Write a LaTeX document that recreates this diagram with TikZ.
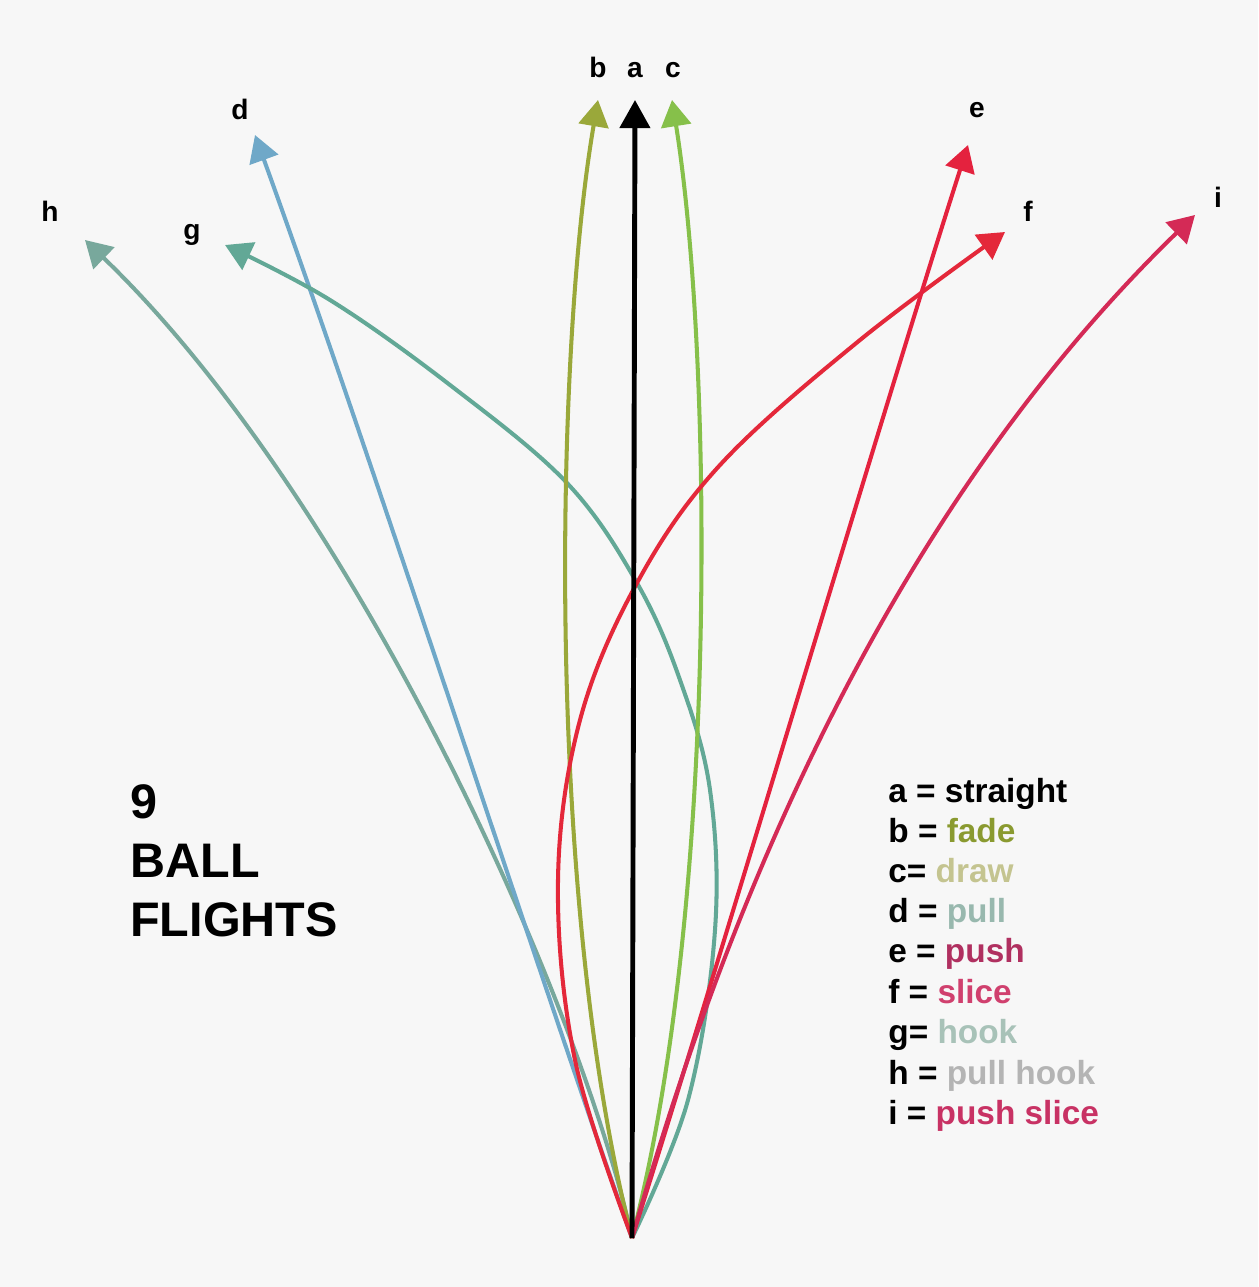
\documentclass[tikz,border=0pt]{standalone}
\usepackage{fontspec}
\setmainfont{Liberation Sans}
\usetikzlibrary{arrows.meta}
\definecolor{bg}{HTML}{F7F7F7}
\definecolor{colb}{HTML}{9AA83A}
\definecolor{colc}{HTML}{86C04A}
\definecolor{cold}{HTML}{6FA8C8}
\definecolor{cole}{HTML}{E4223E}
\definecolor{colf}{HTML}{E4283A}
\definecolor{colg}{HTML}{62A896}
\definecolor{colh}{HTML}{78A89C}
\definecolor{coli}{HTML}{D42A56}
\definecolor{tfade}{HTML}{8A9A30}
\definecolor{tdraw}{HTML}{C4C490}
\definecolor{tpull}{HTML}{98B8AE}
\definecolor{tpush}{HTML}{B03060}
\definecolor{tslice}{HTML}{D0406E}
\definecolor{thook}{HTML}{A8C2B8}
\definecolor{tpullhook}{HTML}{B4B4B4}
\definecolor{tpushslice}{HTML}{C83264}
\tikzset{
  flight/.style={line width=2.3pt, -{Triangle[width=17pt,length=15pt]}},
  lbl/.style={anchor=base, inner sep=0pt, font=\bfseries\fontsize{16}{19}\selectfont},
  legend/.style={anchor=base west, inner sep=0pt, font=\bfseries\fontsize{19}{23}\selectfont},
  title/.style={anchor=base west, inner sep=0pt, font=\bfseries\fontsize{27.6}{33}\selectfont}
}
\begin{document}
\begin{tikzpicture}[x=0.02cm,y=-0.02cm]
\useasboundingbox[fill=bg] (0,0) rectangle (1258,1287);

% origin and tips
\coordinate (O) at (632,1238);
\coordinate (ta) at (635,100);
\coordinate (tb) at (598,100);
\coordinate (tc) at (672,100);
\coordinate (td) at (255,135);
\coordinate (te) at (968,145);
\coordinate (tf) at (1005,232);
\coordinate (tg) at (225,245);
\coordinate (th) at (85,240);
\coordinate (ti) at (1195,215);

% labels
\node[lbl] (la) at (635,78) {a};
\node[lbl] (lb) at (598,78) {b};
\node[lbl] (lc) at (673,78) {c};
\node[lbl] (ld) at (240,120) {d};
\node[lbl] (le) at (977,118) {e};
\node[lbl] (lf) at (1028,222) {f};
\node[lbl] (lg) at (192,240) {g};
\node[lbl] (lh) at (50,222) {h};
\node[lbl] (li) at (1218,208) {i};

% flights
\draw[flight, colh] (O) .. controls (580,1000) and (355,500) .. (th);
\draw[flight, cold] (O) .. controls (540,980) and (380,480) .. (td);
\draw[flight, colg] plot[smooth, tension=0.6] coordinates {(O) (688,1100) (715,930) (710,790) (680,680) (637,583) (567,483) (450,385) (330,300) (tg)};
\draw[flight, colb] (O) .. controls (545,900) and (555,350) .. (tb);
\draw[flight, colc] (O) .. controls (720,900) and (712,350) .. (tc);
\draw[flight, colf] plot[smooth, tension=0.6] coordinates {(O) (575,1060) (558,880) (580,720) (637,583) (720,465) (860,340) (tf)};
\draw[flight, cole] (O) .. controls (720,960) and (880,420) .. (te);
\draw[flight, coli] (O) .. controls (700,1000) and (850,550) .. (ti);
\draw[line width=2.8pt, black, -{Triangle[width=17pt,length=16pt]}] (O) -- (ta);

% title
\node[title] (t1) at (130,818) {9};
\node[title] (t2) at (130,877) {BALL};
\node[title] (t3) at (130,936) {FLIGHTS};

% legend
\node[legend] (g1) at (888,802) {a = straight};
\node[legend] (g2) at (888,842) {b = \textcolor{tfade}{fade}};
\node[legend] (g3) at (888,882) {c= \textcolor{tdraw}{draw}};
\node[legend] (g4) at (888,922) {d = \textcolor{tpull}{pull}};
\node[legend] (g5) at (888,962) {e = \textcolor{tpush}{push}};
\node[legend] (g6) at (888,1003) {f = \textcolor{tslice}{slice}};
\node[legend] (g7) at (888,1043) {g= \textcolor{thook}{hook}};
\node[legend] (g8) at (888,1084) {h = \textcolor{tpullhook}{pull hook}};
\node[legend] (g9) at (888,1124) {i = \textcolor{tpushslice}{push slice}};
\end{tikzpicture}
\end{document}
